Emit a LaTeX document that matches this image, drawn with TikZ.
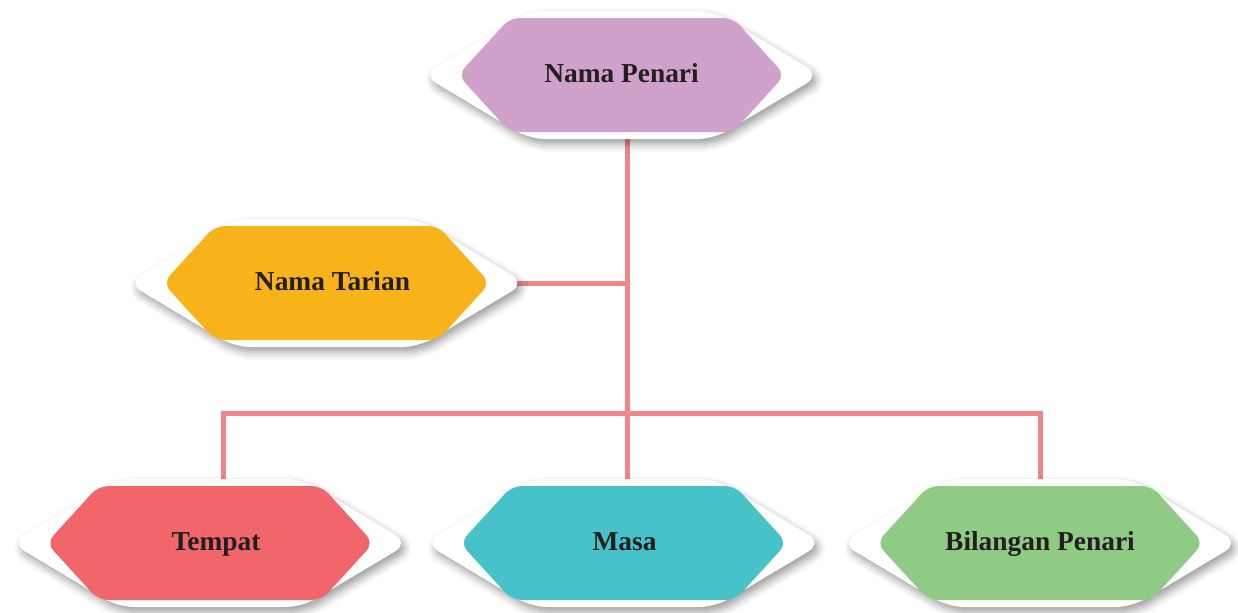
\documentclass[tikz,border=0pt]{standalone}
\usepackage{fontspec}
\setmainfont{Liberation Serif}
\usepackage{tikz, xcolor}
\usetikzlibrary{calc, shadows.blur}

\definecolor{penari}{HTML}{D0A1CA}
\definecolor{tarian}{HTML}{F8B31B}
\definecolor{tempat}{HTML}{F0666B}
\definecolor{masa}{HTML}{47C2C8}
\definecolor{bilangan}{HTML}{8FCB84}
\definecolor{garis}{HTML}{F28585}
\definecolor{teks}{HTML}{231F20}

\pgfdeclarelayer{lines}
\pgfdeclarelayer{shapes}
\pgfsetlayers{lines,shapes,main}

\tikzset{
  label box/.style={rectangle, inner sep=0pt, minimum width=163.5pt,
    minimum height=57pt, text height=9.5pt, text depth=2.5pt,
    font=\bfseries\fontsize{13.7}{15}\selectfont, text=teks},
  back hex/.style={fill=white, rounded corners=8pt,
    blur shadow={shadow xshift=1.5pt, shadow yshift=-2.5pt,
      shadow blur radius=4pt, shadow opacity=40}},
  front hex/.style={rounded corners=5pt},
  link/.style={draw=garis, line width=2.5pt}
}

% #1 style, #2 centre (x,y), #3 half width, #4 half height, #5 inset
\newcommand\hexagon[5]{\path [#1] ([shift={(-#3,0)}]#2)
  -- ([shift={(-#3+#5,-#4)}]#2) -- ([shift={(#3-#5,-#4)}]#2)
  -- ([shift={(#3,0)}]#2) -- ([shift={(#3-#5,#4)}]#2)
  -- ([shift={(-#3+#5,#4)}]#2) -- cycle;}

\begin{document}
\begin{tikzpicture}[x=0.5pt, y=-0.5pt]
  \useasboundingbox (0,0) rectangle (1238,612);

  \foreach \name/\x/\y/\dx/\txt in {penari/621.5/75/0/Nama Penari,
      tarian/326.5/283/6/Nama Tarian, tempat/210/543/6/Tempat,
      masa/623.5/543/1/Masa, bilangan/1040/543/0/Bilangan Penari}
  {
    \begin{pgfonlayer}{shapes}
      \hexagon{back hex}{\x,\y}{199}{64}{107}
      \hexagon{front hex, fill=\name}{\x,\y}{163.5}{57}{52}
    \end{pgfonlayer}
    \node [label box] (\name) at (\x+\dx,\y) {\txt};
  }

  \coordinate (hub) at (627.5,413);
  \begin{pgfonlayer}{lines}
    \draw [link] (penari.south -| hub) -- (masa.north -| hub);
    \draw [link] (tarian.east) -- (tarian.east -| hub);
    \draw [link] ([xshift=3.75pt]tempat.north) |- (hub) -| (bilangan.north);
  \end{pgfonlayer}

\end{tikzpicture}
\end{document}
